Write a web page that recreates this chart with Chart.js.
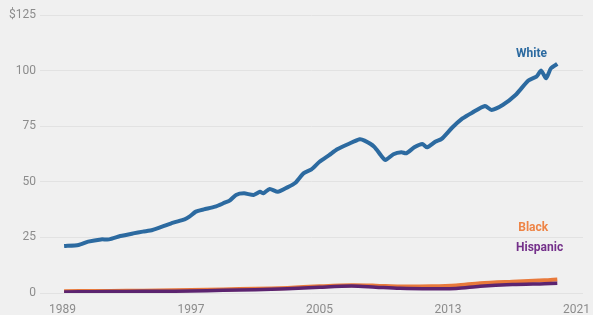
<!DOCTYPE html>
<html lang="en">
<head>
<meta charset="UTF-8">
<title>Wealth by race</title>
<script src="https://cdn.jsdelivr.net/npm/chart.js@4"></script>
<style>
  html, body { margin: 0; padding: 0; background: #f0f0f0; }
  .chart { width: 593px; height: 315px; }
</style>
</head>
<body>
<div class="chart"><canvas id="myChart"></canvas></div>
<script>
// values (trillions of dollars)
const whiteYears = [1989.1, 1990.0, 1990.6, 1991.4, 1991.9, 1992.6, 1993.4, 1994.0, 1994.6, 1995.2,
  1995.9, 1996.6, 1996.9, 1997.3, 1997.8, 1998.5, 1999.1, 1999.4, 1999.8, 2000.3,
  2000.9, 2001.3, 2001.5, 2001.9, 2002.4, 2003.0, 2003.5, 2004.0, 2004.5, 2005.0,
  2005.6, 2006.1, 2006.8, 2007.5, 2007.8, 2008.4, 2008.8, 2009.1, 2009.6, 2010.1,
  2010.4, 2010.9, 2011.4, 2011.7, 2012.2, 2012.6, 2013.25, 2013.9, 2014.5, 2015.3,
  2015.7, 2016.4, 2017.2, 2018.0, 2018.5, 2018.8, 2019.1, 2019.4, 2019.8];
const white = [21.1, 21.6, 23.1, 24.1, 24.1, 25.6, 26.8, 27.6, 28.3, 29.8,
  31.6, 33.1, 34.3, 36.6, 37.6, 38.8, 40.6, 41.5, 44.1, 44.8,
  44.1, 45.5, 44.8, 46.8, 45.5, 47.5, 49.6, 53.8, 55.6, 59.0,
  62.0, 64.6, 67.0, 69.1, 68.5, 65.8, 62.1, 59.8, 62.4, 63.3,
  62.8, 65.5, 67.0, 65.5, 68.0, 69.3, 74.3, 78.5, 81.1, 84.1,
  82.3, 84.5, 89.0, 95.5, 97.3, 100.0, 96.5, 101.0, 103.0];

const minorYears = [1989.1, 1991, 1993, 1995, 1997, 1999, 2001, 2003, 2005, 2007,
  2008.5, 2010, 2012, 2013.5, 2015, 2017, 2019, 2019.8];
const black = [0.8, 0.9, 1.0, 1.1, 1.3, 1.6, 1.9, 2.3, 3.0, 3.5,
  3.3, 2.9, 3.0, 3.4, 4.4, 5.1, 5.7, 6.1];
const hispanic = [0.5, 0.6, 0.7, 0.8, 0.9, 1.2, 1.5, 1.9, 2.6, 3.1,
  2.6, 2.1, 1.9, 2.0, 3.0, 3.8, 4.2, 4.4];

const xTicks = [1989, 1997, 2005, 2013, 2021];
const yTicks = [0, 25, 50, 75, 100, 125];

const seriesLabels = [
  { text: 'White', x: 2018.2, y: 107.5, color: '#2c6aa0' },
  { text: 'Black', x: 2018.3, y: 29.2, color: '#ee8446' },
  { text: 'Hispanic', x: 2018.7, y: 20.2, color: '#74308a' }
];

function pts(xs, ys) {
  return xs.map(function (x, i) { return { x: x, y: ys[i] }; });
}

const FONT = "'Liberation Sans Narrow', Roboto, sans-serif";

// draws the series names next to the lines
const labelPlugin = {
  id: 'seriesLabels',
  afterDatasetsDraw(chart) {
    const ctx = chart.ctx;
    const xs = chart.scales.x, ys = chart.scales.y;
    ctx.save();
    ctx.font = 'bold 12px ' + FONT;
    ctx.textAlign = 'center';
    ctx.textBaseline = 'middle';
    seriesLabels.forEach(function (l) {
      ctx.fillStyle = l.color;
      ctx.fillText(l.text, xs.getPixelForValue(l.x), ys.getPixelForValue(l.y));
    });
    ctx.restore();
  }
};

const bgPlugin = {
  id: 'bg',
  beforeDraw(chart) {
    const ctx = chart.ctx;
    ctx.save();
    ctx.fillStyle = '#f0f0f0';
    ctx.fillRect(0, 0, chart.width, chart.height);
    ctx.restore();
  }
};

const ctx = document.getElementById('myChart').getContext('2d');
const chart = new Chart(ctx, {
  type: 'line',
  data: {
    datasets: [
      { label: 'Hispanic', data: pts(minorYears, hispanic), borderColor: '#5c2470', borderWidth: 3.5, pointRadius: 0, tension: 0.3 },
      { label: 'Black', data: pts(minorYears, black), borderColor: '#e8793b', borderWidth: 4, pointRadius: 0, tension: 0.3 },
      { label: 'White', data: pts(whiteYears, white), borderColor: '#2c6aa0', borderWidth: 4, pointRadius: 0, tension: 0.2 }
    ]
  },
  options: {
    responsive: true,
    maintainAspectRatio: false,
    animation: false,
    layout: { padding: { top: 15, right: 10, left: 0, bottom: 0 } },
    plugins: { legend: { display: false }, tooltip: { enabled: false } },
    scales: {
      x: {
        type: 'linear',
        min: 1987.6,
        max: 2021.4,
        grid: { display: false },
        border: { display: false },
        afterBuildTicks(scale) { scale.ticks = xTicks.map(function (v) { return { value: v }; }); },
        afterFit(scale) { scale.height = 22; },
        ticks: {
          color: '#8c8c8c',
          font: { family: FONT, size: 12 },
          padding: 2,
          maxRotation: 0,
          callback: function (v) { return String(v); }
        }
      },
      y: {
        min: 0,
        max: 125,
        grid: { color: '#e2e2e2', lineWidth: 1, drawTicks: false },
        border: { display: false },
        afterBuildTicks(scale) { scale.ticks = yTicks.map(function (v) { return { value: v }; }); },
        afterFit(scale) { scale.width = 40; },
        ticks: {
          color: '#8c8c8c',
          font: { family: FONT, size: 12 },
          padding: 4,
          callback: function (v) { return v === 125 ? '$125' : String(v); }
        }
      }
    }
  },
  plugins: [bgPlugin, labelPlugin]
});
</script>
</body>
</html>
